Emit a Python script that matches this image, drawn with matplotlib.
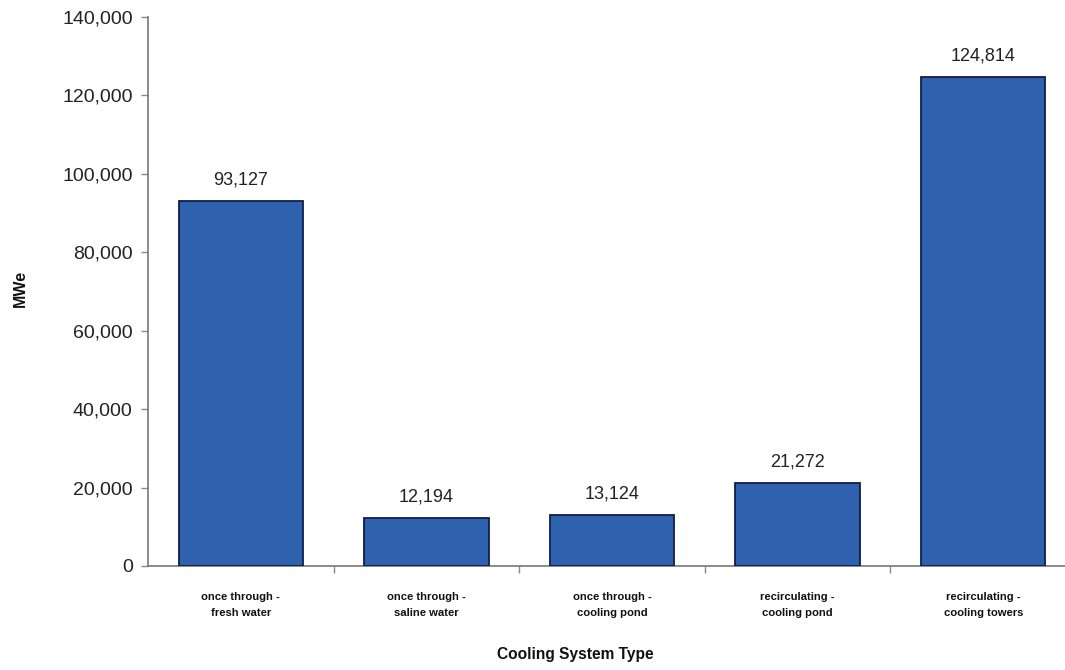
import matplotlib
matplotlib.use("Agg")
import matplotlib.pyplot as plt
from matplotlib.ticker import FuncFormatter, FixedLocator

categories = [
    "once through -\nfresh water",
    "once through -\nsaline water",
    "once through -\ncooling pond",
    "recirculating -\ncooling pond",
    "recirculating -\ncooling towers",
]
capacity_mwe = [93127, 12194, 13124, 21272, 124814]
y_ticks = [0, 20000, 40000, 60000, 80000, 100000, 120000, 140000]

plt.rcParams["font.family"] = ["Liberation Sans", "DejaVu Sans"]

fig = plt.figure(figsize=(10.65, 6.7), dpi=100)
ax = fig.add_axes([148 / 1065, 104 / 670, 928 / 1065, 549 / 670])

x = list(range(len(categories)))
ax.bar(x, capacity_mwe, width=0.67, color="#2E61AE", edgecolor="#0F1E45", linewidth=1.3, zorder=3)

for xi, v in zip(x, capacity_mwe):
    ax.annotate(f"{v:,}", (xi, v), xytext=(0, 9), textcoords="offset points",
                ha="center", va="bottom", fontsize=13, color="#222222")

ax.set_xlim(-0.5, len(categories) - 0.5)
ax.set_ylim(0, 140000)
ax.yaxis.set_major_locator(FixedLocator(y_ticks))
ax.yaxis.set_major_formatter(FuncFormatter(lambda v, p: f"{int(v):,}"))
ax.tick_params(axis="y", labelsize=14, length=5, width=1, color="#888888", labelcolor="#222222", pad=6)

# category labels sit between boundary ticks
ax.set_xticks([i + 0.5 for i in x[:-1]])
ax.set_xticklabels([])
ax.tick_params(axis="x", length=5, width=1, color="#888888")
for xi, lab in zip(x, categories):
    ax.text(xi, -0.071, lab, transform=ax.get_xaxis_transform(), ha="center", va="center",
            fontsize=8.1, fontweight="bold", linespacing=1.85, color="#111111")

for side in ("top", "right"):
    ax.spines[side].set_visible(False)
ax.spines["left"].set_color("#777777")
ax.spines["bottom"].set_color("#777777")
ax.spines["left"].set_linewidth(1.2)
ax.spines["bottom"].set_linewidth(1.2)

fig.text(20 / 1065, 1 - 288 / 670, "MWe", rotation=90, ha="center", va="center",
         fontsize=11.5, fontweight="bold", color="#111111")
fig.text(575 / 1065, 1 - 655 / 670, "Cooling System Type", ha="center", va="center",
         fontsize=11.2, fontweight="bold", color="#111111")

fig.savefig("out.png", dpi=100)
